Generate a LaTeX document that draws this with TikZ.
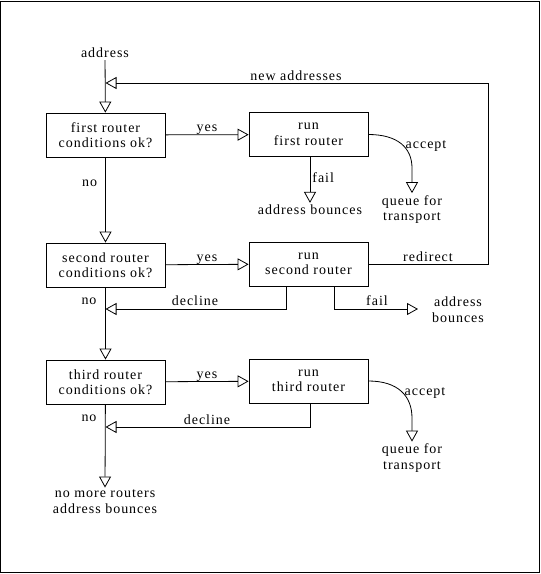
\documentclass[tikz,border=0pt]{standalone}
\usepackage{fontspec}
\setmainfont{Liberation Serif}[LetterSpace=7]
\usetikzlibrary{arrows.meta}
\begin{document}
\begin{tikzpicture}[x=1pt,y=-1pt,font=\fontsize{14}{15.5}\selectfont]
    \tikzstyle{box}=[draw,line width=0.8pt,minimum width=119pt,minimum height=44pt,align=center,inner sep=0pt]
    \tikzstyle{flow}=[line width=0.8pt,-{Triangle[open,length=11pt,width=12pt]}]
    \tikzstyle{txt}=[align=center,inner sep=2pt]
    \useasboundingbox (0,0) rectangle (541,574);
    \draw [line width=1pt] (0.5,1) rectangle (539.5,572.5);
    % routers
    \node (cond1)[box] at (105.5,135) {first router\\conditions ok?};
    \node (cond2)[box] at (105.5,265) {second router\\conditions ok?};
    \node (cond3)[box] at (105.5,382) {third router\\conditions ok?};
    \node (run1)[box] at (308.5,134.5) {run\\first router};
    \node (run2)[box] at (308.5,264) {run\\second router};
    \node (run3)[box] at (308.5,381) {run\\third router};
    % end texts
    \node (addr)[txt] at (105,53) {address};
    \node (bounce1)[txt] at (310,210) {address bounces};
    \node (queue1)[txt] at (412,209.5) {queue for\\transport};
    \node (bounce2)[txt] at (458,309.5) {address\\bounces};
    \node (queue3)[txt] at (412,458) {queue for\\transport};
    \node (nomore)[txt] at (105,501.5) {no more routers\\address bounces};
    % corners
    \coordinate (loop) at (488,83);
    \coordinate (merge) at (105.5,83);
    \coordinate (dec2) at (286,309);
    \coordinate (fail2) at (334,309);
    \coordinate (tip2) at (418,309);
    \coordinate (dec3) at (310,427);
    % connectors
    \draw [flow] (addr) -- (cond1);
    \draw [flow] (cond1) -- node[txt,pos=0.3,left=6pt] {no} (cond2);
    \draw [flow] (cond2) -- (cond3);
    \draw [flow] (cond3) -- (nomore.north);
    \draw [flow] (cond1) -- node[txt,above,inner sep=0pt] {yes} (run1);
    \draw [flow] (cond2) -- node[txt,above,inner sep=0pt] {yes} (run2);
    \draw [flow] (cond3) -- node[txt,above,inner sep=0pt] {yes} (run3);
    \draw [flow] (run1.south -| bounce1) -- node[txt,right,pos=0.45] {fail} (bounce1.north);
    \draw [flow] (run1.east) .. controls (398,134.5) and (412,148) .. (412,168) -- (queue1.north);
    \node at (426,146) {accept};
    \draw [flow] (run2.east) -| (loop) -- (merge);
    \node at (296,76) {new addresses};
    \node at (428,257) {redirect};
    \draw [flow] (run2.south -| dec2) -- (dec2) -- (dec2 -| cond2.south);
    \node at (195,301) {decline};
    \node at (89,301) {no};
    \draw [flow] (run2.south -| fail2) -- (fail2) -- (tip2);
    \node at (377,301) {fail};
    \draw [flow] (run3.south -| dec3) -- (dec3) -- (dec3 -| cond3.south);
    \node at (207,420) {decline};
    \node at (89,418) {no};
    \draw [flow] (run3.east) .. controls (398,381) and (412,396) .. (412,418) -- (queue3.north);
    \node at (425,393) {accept};
\end{tikzpicture}
\end{document}
